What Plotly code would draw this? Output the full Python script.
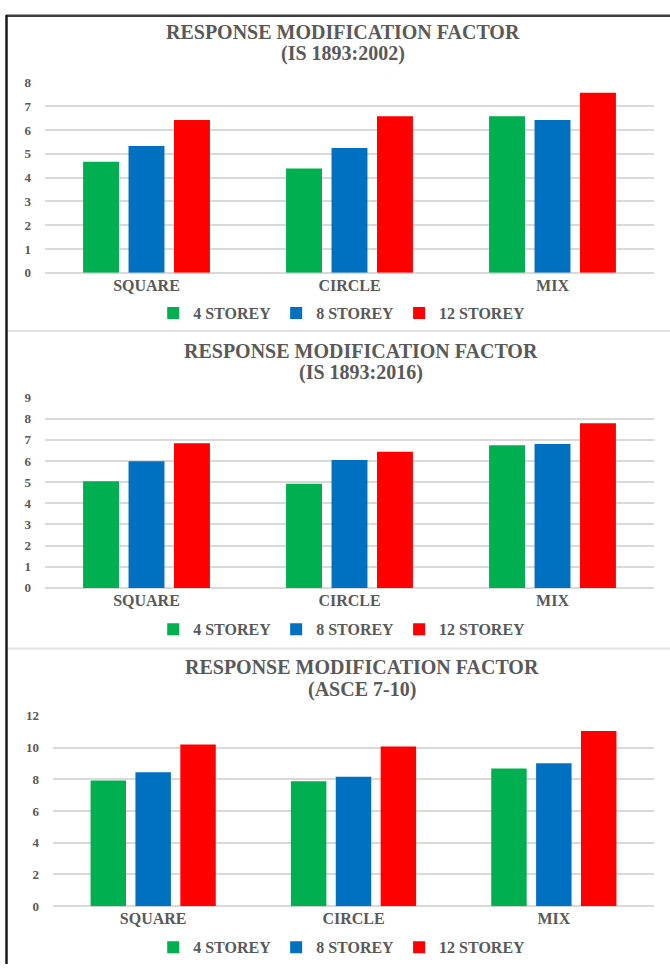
import plotly.graph_objects as go

W, H = 670, 972

categories = ["SQUARE", "CIRCLE", "MIX"]
series_names = ["4 STOREY", "8 STOREY", "12 STOREY"]
colors = ["#00B050", "#0070C0", "#FF0000"]

# IS 1893:2002
is2002_4 = [4.67, 4.39, 6.58]
is2002_8 = [5.33, 5.25, 6.42]
is2002_12 = [6.42, 6.58, 7.57]

# IS 1893:2016
is2016_4 = [5.04, 4.92, 6.75]
is2016_8 = [5.99, 6.05, 6.81]
is2016_12 = [6.84, 6.44, 7.79]

# ASCE 7-10
asce_4 = [7.92, 7.88, 8.69]
asce_8 = [8.44, 8.17, 9.02]
asce_12 = [10.2, 10.07, 11.04]

panel_titles = [
    ("RESPONSE MODIFICATION FACTOR", "(IS 1893:2002)"),
    ("RESPONSE MODIFICATION FACTOR", "(IS 1893:2016)"),
    ("RESPONSE MODIFICATION FACTOR", "(ASCE 7-10)"),
]
panel_data = [
    [is2002_4, is2002_8, is2002_12],
    [is2016_4, is2016_8, is2016_12],
    [asce_4, asce_8, asce_12],
]
y_ranges = [[0, 8], [0, 9], [0, 12]]
y_dticks = [1, 1, 2]

FONT = "Liberation Serif, Times New Roman, serif"
TXT = "#595959"
GRID = "#D9D9D9"

def px(x):
    return x / W

def py(y):
    return 1 - y / H

# pixel geometry of each panel: (x0, x1, ytop, ybottom)
geo = [(45, 654, 76.7, 270), (45, 654, 396.7, 590), (53, 654, 720, 913.3)]
title_pos = [(342.5, 25, 47.5), (361, 349, 371.5), (362, 670.5, 693)]
legend_y = [311, 632, 955]

fig = go.Figure()
layout = dict(
    width=W, height=H,
    margin=dict(l=0, r=0, t=0, b=0),
    paper_bgcolor="white", plot_bgcolor="white",
    barmode="group", bargap=0.328, bargroupgap=0.21,
    showlegend=True,
    annotations=[], shapes=[],
)

for p in range(3):
    sfx = "" if p == 0 else str(p + 1)
    xa, ya = "x" + sfx, "y" + sfx
    leg = "legend" + sfx
    for s in range(3):
        fig.add_trace(go.Bar(
            x=categories, y=panel_data[p][s], name=series_names[s],
            marker=dict(color=colors[s], line=dict(width=0)),
            xaxis=xa, yaxis=ya, legend=leg,
        ))
    x0, x1, yt, yb = geo[p]
    layout["xaxis" + sfx] = dict(
        domain=[px(x0), px(x1)], anchor=ya,
        showgrid=False, showline=False, zeroline=False, ticks="",
        tickfont=dict(family=FONT, size=16, color=TXT, weight="bold"),
        ticklabelstandoff=1, fixedrange=True,
    )
    layout["yaxis" + sfx] = dict(
        domain=[py(yb), py(yt)], anchor=xa,
        range=y_ranges[p], dtick=y_dticks[p], tick0=0,
        showgrid=True, gridcolor=GRID, gridwidth=1.5,
        zeroline=True, zerolinecolor=GRID, zerolinewidth=1.5,
        showline=False, ticks="",
        tickfont=dict(family=FONT, size=13, color=TXT, weight="bold"),
        ticklabelstandoff=13, fixedrange=True,
    )
    layout[leg] = dict(
        orientation="h", x=0.51, xanchor="center",
        y=py(legend_y[p]), yanchor="middle",
        font=dict(family=FONT, size=16, color=TXT, weight="bold"),
        bgcolor="rgba(0,0,0,0)", itemclick=False, itemdoubleclick=False,
    )
    tx, ty1, ty2 = title_pos[p]
    for txt, ty in zip(panel_titles[p], (ty1, ty2)):
        layout["annotations"].append(dict(
            text=txt, x=px(tx), y=py(ty), xref="paper", yref="paper",
            xanchor="center", yanchor="middle", showarrow=False,
            font=dict(family=FONT, size=20, color=TXT, weight="bold"),
        ))

# frame and panel separators
layout["shapes"] += [
    dict(type="line", xref="paper", yref="paper", x0=px(6), x1=1, y0=py(9), y1=py(9),
         line=dict(color="#3a3a3a", width=2.5)),
    dict(type="line", xref="paper", yref="paper", x0=px(6.5), x1=px(6.5), y0=py(8), y1=0,
         line=dict(color="#1a1a1a", width=2.5)),
    dict(type="line", xref="paper", yref="paper", x0=px(8), x1=1, y0=py(329), y1=py(329),
         line=dict(color="#E3E3E3", width=2)),
    dict(type="line", xref="paper", yref="paper", x0=px(8), x1=1, y0=py(651.5), y1=py(651.5),
         line=dict(color="#E3E3E3", width=2)),
]

fig.update_layout(**layout)
fig.write_html("out.html")
